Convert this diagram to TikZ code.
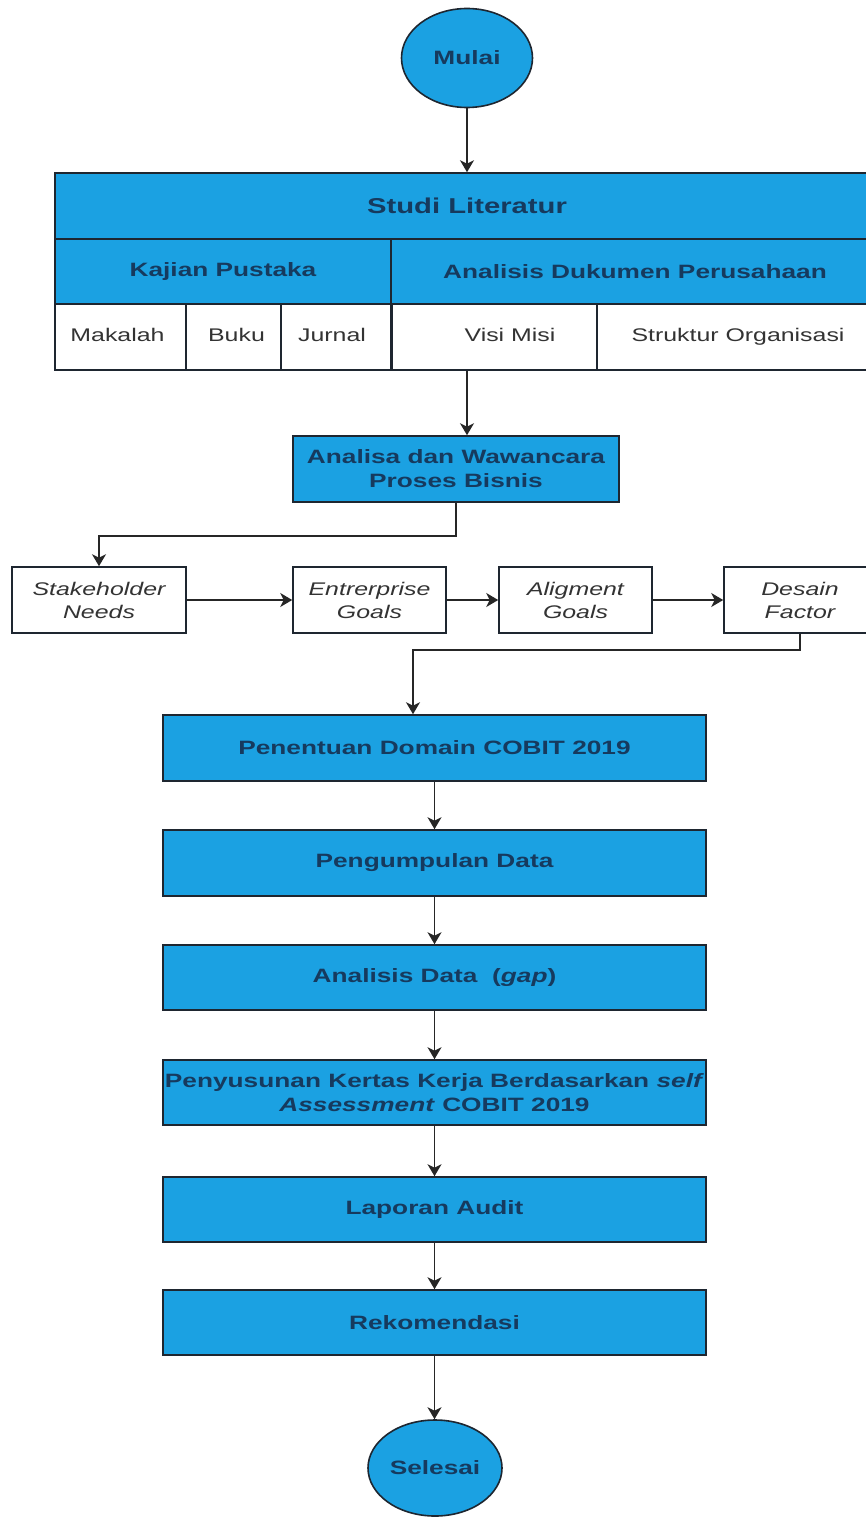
\documentclass[tikz,border=0pt]{standalone}
\usepackage{fontspec}
\setmainfont[FakeStretch=1.36]{Liberation Sans}
\usetikzlibrary{shapes.geometric,arrows.meta}
\definecolor{boxblue}{HTML}{1BA1E2}
\definecolor{boxtext}{HTML}{163A5E}
\definecolor{edge}{HTML}{1E2630}
\definecolor{celltext}{HTML}{333333}
\tikzset{
  base/.style={draw=edge, line width=1.6pt, inner sep=0pt, align=center},
  bluebox/.style={base, rectangle, fill=boxblue, text=boxtext,
    font=\fontsize{19.3}{24}\selectfont\bfseries},
  cellbox/.style={base, rectangle, fill=white, text=celltext,
    text height=13pt, text depth=4pt,
    font=\fontsize{18.3}{23}\selectfont},
  factorbox/.style={base, rectangle, fill=white, text=celltext,
    font=\fontsize{18.3}{23}\selectfont\itshape},
  terminal/.style={base, ellipse, fill=boxblue, text=boxtext,
    font=\fontsize{19.3}{24}\selectfont\bfseries},
  flow/.style={draw=black!85, line width=1.8pt,
    -{Stealth[length=12pt,width=14pt,inset=3.5pt]}}
}
\begin{document}
\begin{tikzpicture}[x=1pt,y=-1pt]
\useasboundingbox (0,0) rectangle (866,1517);
\fill[white] (0,0) rectangle (866,1517);
\clip (0,0) rectangle (866,1517);

% start
\node[terminal, minimum width=131pt, minimum height=99pt] (mulai) at (467,58) {Mulai};

% literature study table
\node[bluebox, minimum width=824pt, minimum height=66pt,
  font=\fontsize{21.5}{26}\selectfont\bfseries] (studi) at (467,206) {Studi Literatur};
\node[bluebox, minimum width=336pt, minimum height=65pt] (kajian) at (223,271.5) {Kajian Pustaka};
\node[bluebox, minimum width=488pt, minimum height=65pt] (dokumen) at (635,271.5) {Analisis Dukumen Perusahaan};
\node[cellbox, minimum width=131pt, minimum height=66pt] (makalah) at (120.5,337) {Makalah\hspace{6pt}};
\node[cellbox, minimum width=95pt, minimum height=66pt] (buku) at (233.5,337) {\hspace{6pt}Buku};
\node[cellbox, minimum width=110pt, minimum height=66pt] (jurnal) at (336,337) {Jurnal\hspace{8pt}};
\node[cellbox, minimum width=206pt, minimum height=66pt] (visi) at (494,337) {\hspace{32pt}Visi Misi};
\node[cellbox, minimum width=282pt, minimum height=66pt] (struktur) at (738,337) {Struktur Organisasi};
\draw[draw=edge, line width=2.8pt] (jurnal.north east) -- (jurnal.south east);

% business process analysis
\node[bluebox, minimum width=326pt, minimum height=66pt] (analisa) at (456,469)
  {Analisa dan Wawancara\\Proses Bisnis};

% goals cascade
\node[factorbox, minimum width=174pt, minimum height=66pt] (stake) at (99,600) {Stakeholder\\Needs};
\node[factorbox, minimum width=153pt, minimum height=66pt] (enter) at (369.5,600) {Entrerprise\\Goals};
\node[factorbox, minimum width=153pt, minimum height=66pt] (align) at (575.5,600) {Aligment\\Goals};
\node[factorbox, minimum width=152pt, minimum height=66pt] (desain) at (800,600) {Desain\\Factor};

% main process steps
\node[bluebox, minimum width=543pt, minimum height=66pt] (penentuan) at (434.5,748) {Penentuan Domain COBIT 2019};
\node[bluebox, minimum width=543pt, minimum height=66pt] (kumpul) at (434.5,863) {Pengumpulan Data};
\node[bluebox, minimum width=543pt, minimum height=65pt] (analisis) at (434.5,977.5) {Analisis Data\ \ (\textit{gap})};
\node[bluebox, minimum width=543pt, minimum height=65pt] (susun) at (434.5,1092.5)
  {Penyusunan Kertas Kerja Berdasarkan \textit{self}\\\textit{Assessment} COBIT 2019};
\node[bluebox, minimum width=543pt, minimum height=65pt] (laporan) at (434.5,1209.5) {Laporan Audit};
\node[bluebox, minimum width=543pt, minimum height=65pt] (rekom) at (434.5,1322.5) {Rekomendasi};

% end
\node[terminal, minimum width=134pt, minimum height=96pt] (selesai) at (435,1468) {Selesai};

% connectors
\draw[flow] (mulai) -- (studi);
\draw[flow] (mulai |- visi.south) -- (mulai |- analisa.north);
\draw[flow] (analisa.south) -- ++(0,33) -| (stake.north);
\draw[flow] (stake) -- (enter);
\draw[flow] (enter) -- (align);
\draw[flow] (align) -- (desain);
\draw[flow] (desain.south) -- ++(0,16) -| ([xshift=-21.5pt]penentuan.north);
\draw[flow] (penentuan) -- (kumpul);
\draw[flow] (kumpul) -- (analisis);
\draw[flow] (analisis) -- (susun);
\draw[flow] (susun) -- (laporan);
\draw[flow] (laporan) -- (rekom);
\draw[flow] (rekom.south) -- (rekom.south |- selesai.north);
\end{tikzpicture}
\end{document}
